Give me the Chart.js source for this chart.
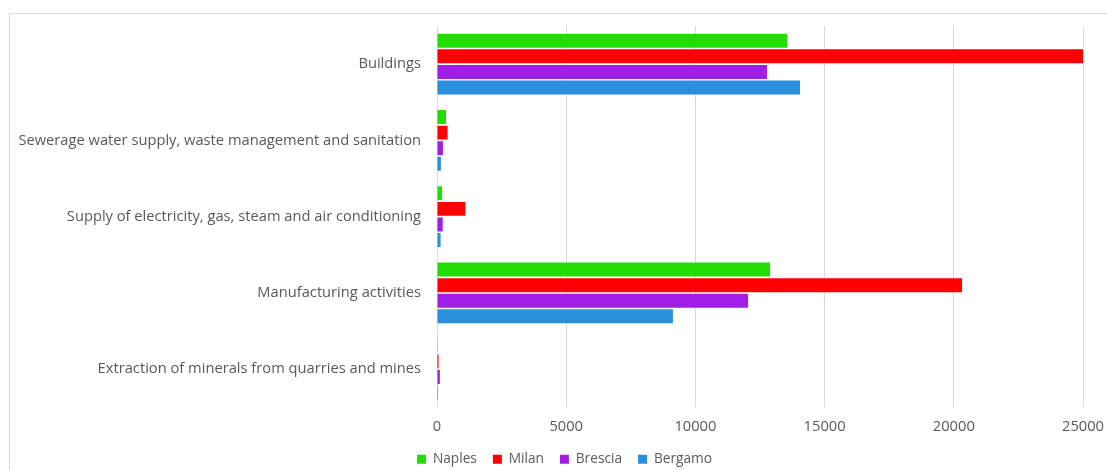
<!DOCTYPE html>
<html>
<head>
<meta charset="utf-8">
<script src="https://cdn.jsdelivr.net/npm/chart.js@4/dist/chart.umd.min.js"></script>
<style>
  html, body { margin: 0; padding: 0; background: #ffffff; }
  #wrap { position: relative; width: 1107px; height: 470px; overflow: hidden; }
</style>
</head>
<body>
<div id="wrap"><canvas id="c" width="1107" height="470"></canvas></div>
<script>
// Economic sectors (top to bottom)
const categories = [
  'Buildings',
  'Sewerage water supply, waste management and sanitation',
  'Supply of electricity, gas, steam and air conditioning',
  'Manufacturing activities',
  'Extraction of minerals from quarries and mines'
];

// Values per province
const naples  = [13550, 350, 200, 12890, 10];
const milan   = [25000, 410, 1100, 20320, 60];
const brescia = [12770, 230, 220, 12040, 110];
const bergamo = [14050, 150, 140, 9130, 40];

const seriesNames = ['Naples', 'Milan', 'Brescia', 'Bergamo'];
const xTicks = [0, 5000, 10000, 15000, 20000, 25000];

const colors = ['#22de00', '#ff0000', '#a01ee6', '#2a8fdc'];

Chart.defaults.font.family = "'Open Sans', 'Liberation Sans', sans-serif";
Chart.defaults.color = '#595959';

// light frame around the chart, and legend centred on the framed area
const framePlugin = {
  id: 'frame',
  afterLayout(chart) {
    const lg = chart.legend;
    if (lg) { lg.left += 11; lg.right += 11; }
  },
  beforeDraw(chart) {
    const ctx = chart.ctx;
    ctx.save();
    ctx.fillStyle = '#ffffff';
    ctx.fillRect(0, 0, chart.width, chart.height);
    ctx.strokeStyle = '#d9d9d9';
    ctx.lineWidth = 1;
    ctx.strokeRect(9.5, 13.5, 1200, 600);
    ctx.restore();
  }
};

new Chart(document.getElementById('c'), {
  type: 'bar',
  data: {
    labels: categories,
    datasets: [naples, milan, brescia, bergamo].map((vals, i) => ({
      label: seriesNames[i],
      data: vals,
      backgroundColor: colors[i],
      borderWidth: 0,
      barPercentage: 0.9,
      categoryPercentage: 0.815
    }))
  },
  options: {
    indexAxis: 'y',
    responsive: false,
    animation: false,
    layout: { padding: { left: 0, right: 0, top: 26, bottom: -6 } },
    plugins: {
      tooltip: { enabled: false },
      legend: {
        position: 'bottom',
        labels: {
          boxWidth: 9,
          boxHeight: 9,
          padding: 16,
          font: { size: 13.7 },
          color: '#595959'
        }
      }
    },
    scales: {
      x: {
        min: 0,
        max: 25000,
        afterBuildTicks(scale) { scale.ticks = xTicks.map(v => ({ value: v })); },
        afterFit(scale) { scale.height = 29; scale.paddingRight = 24; },
        grid: { color: '#d9d9d9', drawTicks: false, lineWidth: 1 },
        border: { display: false },
        ticks: {
          padding: 11,
          font: { size: 14.7 },
          color: '#595959',
          callback: v => String(v)
        }
      },
      y: {
        afterFit(scale) { scale.width = 437; },
        grid: { display: false },
        border: { display: true, color: '#d9d9d9' },
        ticks: { padding: 8, font: { size: 14.7 }, color: '#595959' }
      }
    }
  },
  plugins: [framePlugin]
});
</script>
</body>
</html>
